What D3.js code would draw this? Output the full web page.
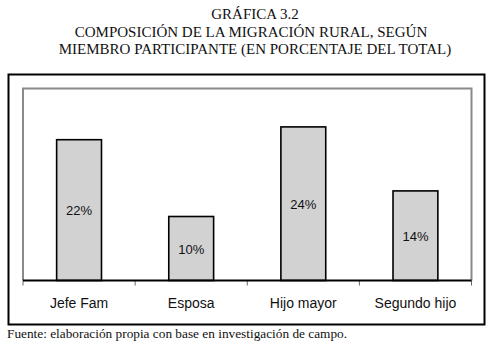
<!DOCTYPE html>
<html>
<head>
<meta charset="utf-8">
<script src="https://cdn.jsdelivr.net/npm/d3@7"></script>
<style>
html,body{margin:0;padding:0;background:#fff;}
svg{display:block;}
</style>
</head>
<body>
<svg id="chart" width="492" height="349"></svg>
<script>
const categories = ["Jefe Fam", "Esposa", "Hijo mayor", "Segundo hijo"];
const values = [22, 10, 24, 14];
const valueLabels = ["22%", "10%", "24%", "14%"];
const titleLines = ["GRÁFICA 3.2", "COMPOSICIÓN DE LA MIGRACIÓN RURAL, SEGÚN", "MIEMBRO PARTICIPANTE (EN PORCENTAJE DEL TOTAL)"];
const footer = "Fuente: elaboración propia con base en investigación de campo.";
const yMax = 30;

const svg = d3.select("#chart");
const plot = {left: 23, right: 471.5, top: 88.5, bottom: 280.5};

// Title
const titleY = [18.5, 37, 54];
const titleX = [255, 251, 255];
svg.selectAll("text.title").data(titleLines).join("text")
  .attr("class", "title")
  .attr("x", (d, i) => titleX[i])
  .attr("y", (d, i) => titleY[i])
  .attr("text-anchor", "middle")
  .attr("font-family", "'Liberation Serif', 'Times New Roman', serif")
  .attr("font-size", 15)
  .attr("fill", "#111")
  .text(d => d);

// Outer frame
svg.append("rect")
  .attr("x", 8.5).attr("y", 74.5)
  .attr("width", 476).attr("height", 250)
  .attr("fill", "none").attr("stroke", "#000").attr("stroke-width", 2);

const x = d3.scaleBand().domain(categories)
  .range([plot.left, plot.right])
  .paddingInner(0.6).paddingOuter(0.3);
const xb = d3.scaleBand().domain(categories).range([plot.left, plot.right]).padding(0);
const y = d3.scaleLinear().domain([0, yMax]).range([plot.bottom, plot.top]);

// Plot area gray border (top, left, right)
svg.append("path")
  .attr("d", `M${plot.left},${plot.bottom}V${plot.top}H${plot.right}V${plot.bottom}`)
  .attr("fill", "none").attr("stroke", "#8a8a8a").attr("stroke-width", 2);

// Bars
svg.selectAll("rect.bar").data(values).join("rect")
  .attr("class", "bar")
  .attr("x", (d, i) => x(categories[i]))
  .attr("y", d => y(d))
  .attr("width", x.bandwidth())
  .attr("height", d => y(0) - y(d))
  .attr("fill", "#d2d2d2")
  .attr("stroke", "#000").attr("stroke-width", 1.6);

// Value labels
svg.selectAll("text.val").data(values).join("text")
  .attr("class", "val")
  .attr("x", (d, i) => x(categories[i]) + x.bandwidth() / 2)
  .attr("y", d => (y(d) + y(0)) / 2 + 5)
  .attr("text-anchor", "middle")
  .attr("font-family", "'Liberation Sans', Arial, sans-serif")
  .attr("font-size", 13)
  .attr("fill", "#111")
  .text((d, i) => valueLabels[i]);

// X axis
const ticks = categories.map(c => xb(c)).concat([plot.right]);
svg.selectAll("line.tick").data(ticks).join("line")
  .attr("class", "tick")
  .attr("x1", d => d).attr("x2", d => d)
  .attr("y1", plot.bottom).attr("y2", plot.bottom + 5)
  .attr("stroke", "#666").attr("stroke-width", 1);

svg.append("line")
  .attr("x1", plot.left).attr("x2", plot.right)
  .attr("y1", plot.bottom).attr("y2", plot.bottom)
  .attr("stroke", "#000").attr("stroke-width", 2.2);

svg.selectAll("text.cat").data(categories).join("text")
  .attr("class", "cat")
  .attr("x", d => xb(d) + xb.bandwidth() / 2)
  .attr("y", 308)
  .attr("text-anchor", "middle")
  .attr("font-family", "'Liberation Sans', Arial, sans-serif")
  .attr("font-size", 14)
  .attr("fill", "#111")
  .text(d => d);

// Footer
svg.append("text")
  .attr("x", 7).attr("y", 338)
  .attr("font-family", "'Liberation Serif', 'Times New Roman', serif")
  .attr("font-size", 13.3)
  .attr("fill", "#111")
  .text(footer);
</script>
</body>
</html>
